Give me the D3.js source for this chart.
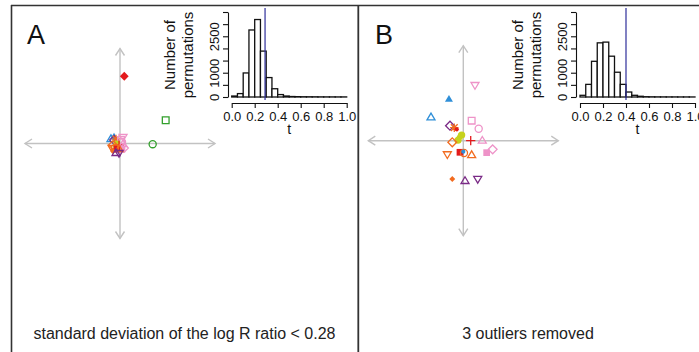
<!DOCTYPE html>
<html>
<head>
<meta charset="utf-8">
<script src="https://cdn.jsdelivr.net/npm/d3@7"></script>
<style>
  html, body { margin: 0; padding: 0; background: #fff; }
  svg { display: block; font-family: "Liberation Sans", Arial, Helvetica, sans-serif; }
</style>
</head>
<body>
<svg id="chart" width="699" height="352"></svg>
<script>
// ---- permutation histograms (bin width 0.05 over t in [0, 1]) ----
const binWidth = 0.05;
const countsA = [40, 140, 990, 2760, 3190, 1890, 800, 340, 100, 40, 20, 14, 10, 9, 8, 6, 5, 5, 4, 4];
const countsB = [70, 520, 1470, 2230, 2260, 1680, 1020, 520, 205, 70, 30, 12, 8, 6, 5, 4, 4, 3, 3, 2];
const observedT = [0.29, 0.40];
const xTicks = [0, 0.2, 0.4, 0.6, 0.8, 1.0];
const yTicks = [0, 500, 1000, 1500, 2000, 2500, 3000, 3500];
const yTickLabels = [0, 1000, 2500];

// ---- scatter of samples (first two components) ----
const colors = {
  pink: "#ee93c8", blue: "#2f8fd8", purple: "#7a2a86", orange: "#f26b1f",
  red: "#e31a1c", green: "#33a02c", lime: "#c6d21c"
};
// [shape, colour, filled, x, y]
const pointsA = [
  ["diamond", "red", true, 0.45, 7.08],
  ["square", "green", false, 4.81, 2.45],
  ["circle", "green", false, 3.44, -0.07],
  ["tri", "blue", false, -0.95, 0.47],
  ["tri", "blue", true, -0.63, 0.68],
  ["diamond", "purple", false, -0.63, 0.37],
  ["star", "orange", false, -0.42, 0.47],
  ["tridown", "pink", false, 0.32, 0.68],
  ["square", "pink", false, 0.10, 0.37],
  ["circle", "pink", false, 0.21, 0.16],
  ["circle", "lime", true, -0.32, -0.05],
  ["tri", "lime", true, -0.42, -0.16],
  ["plus", "red", false, -0.10, -0.16],
  ["diamond", "orange", false, -0.74, -0.16],
  ["tri", "pink", false, 0.32, -0.05],
  ["diamond", "pink", false, 0.42, -0.47],
  ["square", "pink", true, 0.21, -0.58],
  ["tridown", "orange", false, -0.84, -0.47],
  ["square", "red", true, -0.32, -0.58],
  ["circle", "orange", false, -0.53, -0.47],
  ["tri", "orange", false, -0.10, -0.58],
  ["diamondsmall", "orange", true, -0.74, -0.79],
  ["tri", "purple", false, -0.42, -1.00],
  ["tridown", "purple", false, -0.10, -1.00]
];
const pointsB = [
  ["tridown", "pink", false, 1.23, 5.86],
  ["tri", "blue", true, -1.51, 4.36],
  ["tri", "blue", false, -3.40, 2.46],
  ["square", "pink", false, 0.88, 2.11],
  ["circle", "pink", false, 1.62, 1.26],
  ["diamond", "purple", false, -1.40, 1.58],
  ["star", "orange", false, -0.95, 1.37],
  ["dot", "red", true, -0.69, 1.20],
  ["circle", "lime", true, -0.17, 0.60],
  ["tri", "lime", true, -0.45, 0.39],
  ["circle", "lime", true, -0.56, 0.05],
  ["plus", "red", false, 0.78, 0.00],
  ["tri", "pink", false, 2.00, 0.00],
  ["diamond", "orange", false, -1.16, -0.17],
  ["diamond", "pink", false, 3.09, -0.91],
  ["square", "pink", true, 2.46, -1.26],
  ["tridown", "orange", false, -1.68, -1.43],
  ["square", "red", true, -0.35, -1.22],
  ["circle", "orange", false, 0.07, -1.29],
  ["dot", "blue", true, 0.00, -1.15],
  ["tri", "orange", false, 0.88, -1.51],
  ["diamondsmall", "orange", true, -1.16, -4.03],
  ["tri", "purple", false, 0.18, -4.24],
  ["tridown", "purple", false, 1.52, -4.03]
];

const panelLetters = ["A", "B"];
const captions = ["standard deviation of the log R ratio < 0.28", "3 outliers removed"];

const svg = d3.select("#chart");
const frame = "#333";

// panel frame
svg.append("line").attr("x1", 11).attr("x2", 699).attr("y1", 5.5).attr("y2", 5.5)
  .attr("stroke", frame).attr("stroke-width", 1.6);
svg.append("line").attr("x1", 11.5).attr("x2", 11.5).attr("y1", 5).attr("y2", 352)
  .attr("stroke", frame).attr("stroke-width", 1.6);
svg.append("line").attr("x1", 358.3).attr("x2", 358.3).attr("y1", 5).attr("y2", 352)
  .attr("stroke", frame).attr("stroke-width", 1.8);

function symbolPath(shape, r) {
  const s3 = Math.sqrt(3);
  switch (shape) {
    case "tri": return `M0,${-r}L${r * s3 / 2 * 1.1},${r * 0.6}L${-r * s3 / 2 * 1.1},${r * 0.6}Z`;
    case "tridown": return `M0,${r}L${r * s3 / 2 * 1.1},${-r * 0.6}L${-r * s3 / 2 * 1.1},${-r * 0.6}Z`;
    case "square": return `M${-r * 0.8},${-r * 0.8}H${r * 0.8}V${r * 0.8}H${-r * 0.8}Z`;
    case "diamond": return `M0,${-r * 1.05}L${r * 1.05},0L0,${r * 1.05}L${-r * 1.05},0Z`;
    case "diamondsmall": return `M0,${-r * 0.7}L${r * 0.7},0L0,${r * 0.7}L${-r * 0.7},0Z`;
    case "plus": return `M${-r * 1.1},0H${r * 1.1}M0,${-r * 1.1}V${r * 1.1}`;
    case "star": {
      const d = r * 0.8;
      return `M${-r},0H${r}M0,${-r}V${r}M${-d},${-d}L${d},${d}M${-d},${d}L${d},${-d}`;
    }
    case "dot": return d3.arc()({innerRadius: 0, outerRadius: r * 0.5, startAngle: 0, endAngle: 2 * Math.PI});
    default: return d3.arc()({innerRadius: 0, outerRadius: r * 0.85, startAngle: 0, endAngle: 2 * Math.PI});
  }
}

function drawScatter(cx, cy, pts) {
  const half = 95;
  const x = d3.scaleLinear().domain([-10, 10]).range([cx - half, cx + half]);
  const y = d3.scaleLinear().domain([-10, 10]).range([cy + half, cy - half]);
  const g = svg.append("g");
  const axCol = "#c2c2c2";
  g.append("line").attr("x1", x(-10)).attr("x2", x(10)).attr("y1", y(0)).attr("y2", y(0))
    .attr("stroke", axCol).attr("stroke-width", 1.4);
  g.append("line").attr("x1", x(0)).attr("x2", x(0)).attr("y1", y(-10)).attr("y2", y(10))
    .attr("stroke", axCol).attr("stroke-width", 1.4);
  const a = 7, b = 4.5;
  const heads = [
    `M${x(-10) + a},${y(0) - b}L${x(-10)},${y(0)}L${x(-10) + a},${y(0) + b}`,
    `M${x(10) - a},${y(0) - b}L${x(10)},${y(0)}L${x(10) - a},${y(0) + b}`,
    `M${x(0) - b},${y(10) + a}L${x(0)},${y(10)}L${x(0) + b},${y(10) + a}`,
    `M${x(0) - b},${y(-10) - a}L${x(0)},${y(-10)}L${x(0) + b},${y(-10) - a}`
  ];
  g.selectAll("path.head").data(heads).join("path").attr("class", "head")
    .attr("d", d => d).attr("fill", "none").attr("stroke", axCol).attr("stroke-width", 1.4);
  g.selectAll("path.pt").data(pts).join("path").attr("class", "pt")
    .attr("transform", d => `translate(${x(d[3])},${y(d[4])})`)
    .attr("d", d => symbolPath(d[0], 4.2))
    .attr("fill", d => d[2] ? colors[d[1]] : "none")
    .attr("stroke", d => d[2] && d[0] !== "plus" && d[0] !== "star" ? "none" : colors[d[1]])
    .attr("stroke-width", 1.3);
}

function drawHist(x0, x1, yAxisX, counts, tObs) {
  const x = d3.scaleLinear().domain([0, 1]).range([x0, x1]);
  const y = d3.scaleLinear().domain([0, 3500]).range([97, 12]);
  const g = svg.append("g");
  g.selectAll("rect").data(counts).join("rect")
    .attr("x", (d, i) => x(i * binWidth))
    .attr("width", x(binWidth) - x(0))
    .attr("y", d => y(d))
    .attr("height", d => y(0) - y(d))
    .attr("fill", "#fff").attr("stroke", "#111").attr("stroke-width", 1.3);
  g.append("line").attr("x1", x(tObs)).attr("x2", x(tObs)).attr("y1", 8).attr("y2", 100)
    .attr("stroke", "#2e2e9a").attr("stroke-width", 1.2);

  const xa = g.append("g").attr("transform", "translate(0,103)")
    .call(d3.axisBottom(x).tickValues(xTicks).tickFormat(d3.format(".1f"))
      .tickSize(5).tickSizeOuter(0).tickPadding(3.5));
  const ya = g.append("g").attr("transform", `translate(${yAxisX},0)`)
    .call(d3.axisLeft(y).tickValues(yTicks)
      .tickFormat(d => yTickLabels.includes(d) ? String(d) : "")
      .tickSize(5).tickSizeOuter(0));
  [xa, ya].forEach(ax => {
    ax.select(".domain").attr("stroke", "#111").attr("stroke-width", 1.1);
    ax.selectAll(".tick line").attr("stroke", "#111").attr("stroke-width", 1.1);
    ax.selectAll("text").attr("font-size", 13).attr("fill", "#111")
      .attr("font-family", "Liberation Sans, Arial, sans-serif");
  });
  ya.selectAll("text").attr("transform", "rotate(-90)").attr("x", 0).attr("y", -9)
    .attr("dy", 0).attr("text-anchor", "middle");

  g.append("text").attr("x", (x0 + x1) / 2).attr("y", 133.5).attr("text-anchor", "middle")
    .attr("font-size", 14).attr("fill", "#111").text("t");
  const tl = g.append("g").attr("transform", `translate(${yAxisX - 35},55) rotate(-90)`);
  tl.append("text").attr("x", 0).attr("y", -18).attr("text-anchor", "middle")
    .attr("font-size", 15).attr("fill", "#111").text("Number of");
  tl.append("text").attr("x", 0).attr("y", 0).attr("text-anchor", "middle")
    .attr("font-size", 15).attr("fill", "#111").text("permutations");
}

drawScatter(120, 143.5, pointsA);
drawScatter(463.3, 140.7, pointsB);
drawHist(231.7, 346.7, 228, countsA, observedT[0]);
drawHist(580, 695, 576, countsB, observedT[1]);

[27, 375].forEach((px, i) => {
  svg.append("text").attr("x", px).attr("y", 44).attr("font-size", 27)
    .attr("fill", "#111").text(panelLetters[i]);
});
[184.5, 528].forEach((px, i) => {
  svg.append("text").attr("x", px).attr("y", 339).attr("text-anchor", "middle")
    .attr("font-size", 16).attr("fill", "#222").text(captions[i]);
});
</script>
</body>
</html>
